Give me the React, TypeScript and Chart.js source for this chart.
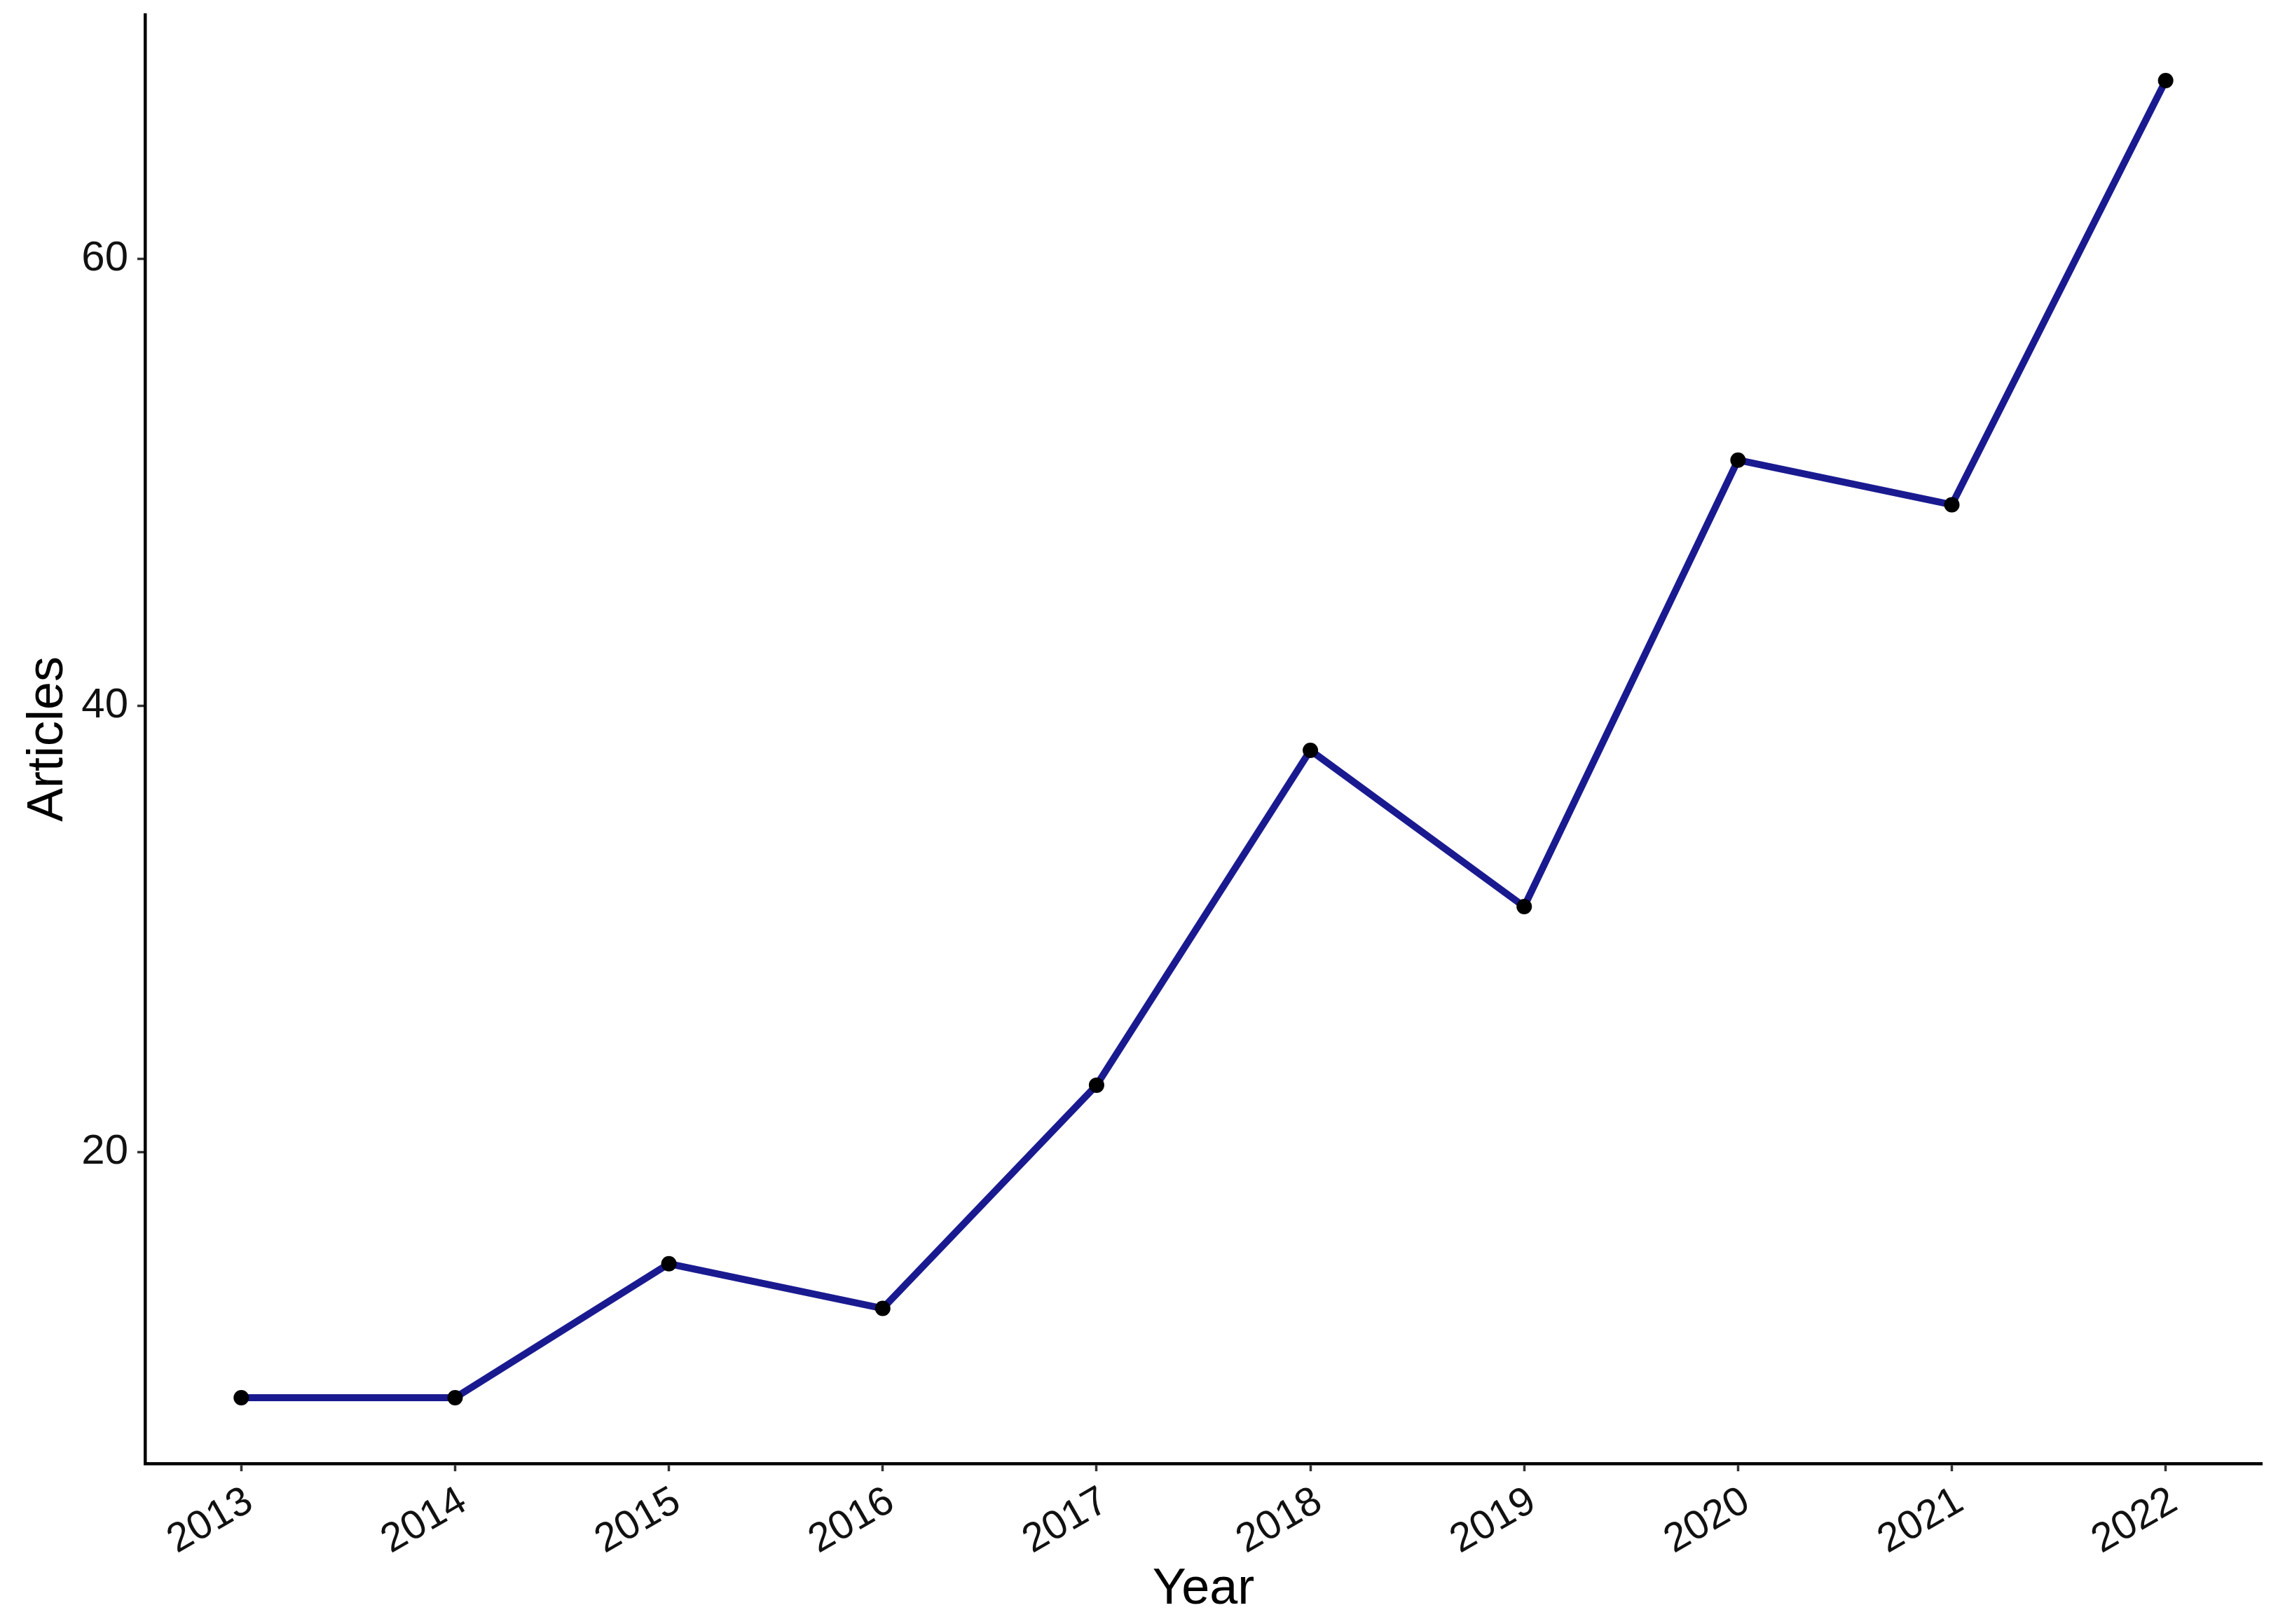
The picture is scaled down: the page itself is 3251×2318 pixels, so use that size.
import React, { useEffect, useRef } from 'react';
import { Chart, registerables } from 'chart.js';

Chart.register(...registerables);

const years = [2013, 2014, 2015, 2016, 2017, 2018, 2019, 2020, 2021, 2022];
const articles = [9, 9, 15, 13, 23, 38, 31, 51, 49, 68];
const yTickValues = [20, 40, 60];
const xTitle = 'Year';
const yTitle = 'Articles';

const FONT = '"Liberation Sans", Arial, Helvetica, sans-serif';

export default function App() {
  const ref = useRef<HTMLCanvasElement>(null);

  useEffect(() => {
    if (!ref.current) return;
    const chart = new Chart(ref.current, {
      type: 'line',
      data: {
        datasets: [
          {
            data: years.map((y, i) => ({ x: y, y: articles[i] })),
            borderColor: '#1a1a90',
            borderWidth: 10,
            pointRadius: 11,
            pointHoverRadius: 11,
            pointBackgroundColor: '#000',
            pointBorderWidth: 0,
            tension: 0,
            fill: false,
          },
        ],
      },
      options: {
        animation: false,
        responsive: false,
        devicePixelRatio: 1,
        events: [],
        layout: { padding: { left: 0, right: 23, top: 21, bottom: 0 } },
        plugins: { legend: { display: false }, tooltip: { enabled: false } },
        scales: {
          x: {
            type: 'linear',
            min: 2012.55,
            max: 2022.45,
            afterBuildTicks: (s: any) => {
              s.ticks = years.map((v) => ({ value: v }));
            },
            afterFit: (s: any) => {
              s.height = 229;
              s.paddingLeft = 0;
              s.paddingRight = 0;
            },
            border: { display: true, color: '#000', width: 4.5 },
            grid: {
              display: true,
              drawOnChartArea: false,
              drawTicks: true,
              tickLength: 11,
              tickColor: '#333',
              tickWidth: 3.5,
            },
            ticks: {
              autoSkip: false,
              minRotation: 30,
              maxRotation: 30,
              padding: 9,
              labelOffset: 12,
              color: '#111',
              font: { family: FONT, size: 58 },
              callback: (v: any) => String(v),
            },
            title: {
              display: true,
              text: xTitle,
              color: '#000',
              font: { family: FONT, size: 72 },
              padding: { top: 0, bottom: 6 },
            },
          },
          y: {
            type: 'linear',
            min: 6.05,
            max: 70.95,
            afterBuildTicks: (s: any) => {
              s.ticks = yTickValues.map((v) => ({ value: v }));
            },
            afterFit: (s: any) => {
              s.width = 207;
              s.paddingTop = 0;
              s.paddingBottom = 0;
            },
            border: { display: true, color: '#000', width: 4.5 },
            grid: {
              display: true,
              drawOnChartArea: false,
              drawTicks: true,
              tickLength: 11,
              tickColor: '#333',
              tickWidth: 3.5,
            },
            ticks: {
              padding: 13,
              color: '#111',
              font: { family: FONT, size: 60 },
              callback: (v: any) => String(v),
            },
            title: {
              display: true,
              text: yTitle,
              color: '#000',
              font: { family: FONT, size: 72 },
              padding: { top: 26, bottom: 0 },
            },
          },
        },
      },
    });
    return () => chart.destroy();
  }, []);

  return (
    <div style={{ position: 'fixed', left: 0, top: 0, width: 3251, height: 2318, background: '#fff' }}>
      <canvas ref={ref} width={3251} height={2318} style={{ width: 3251, height: 2318, display: 'block' }} />
    </div>
  );
}
